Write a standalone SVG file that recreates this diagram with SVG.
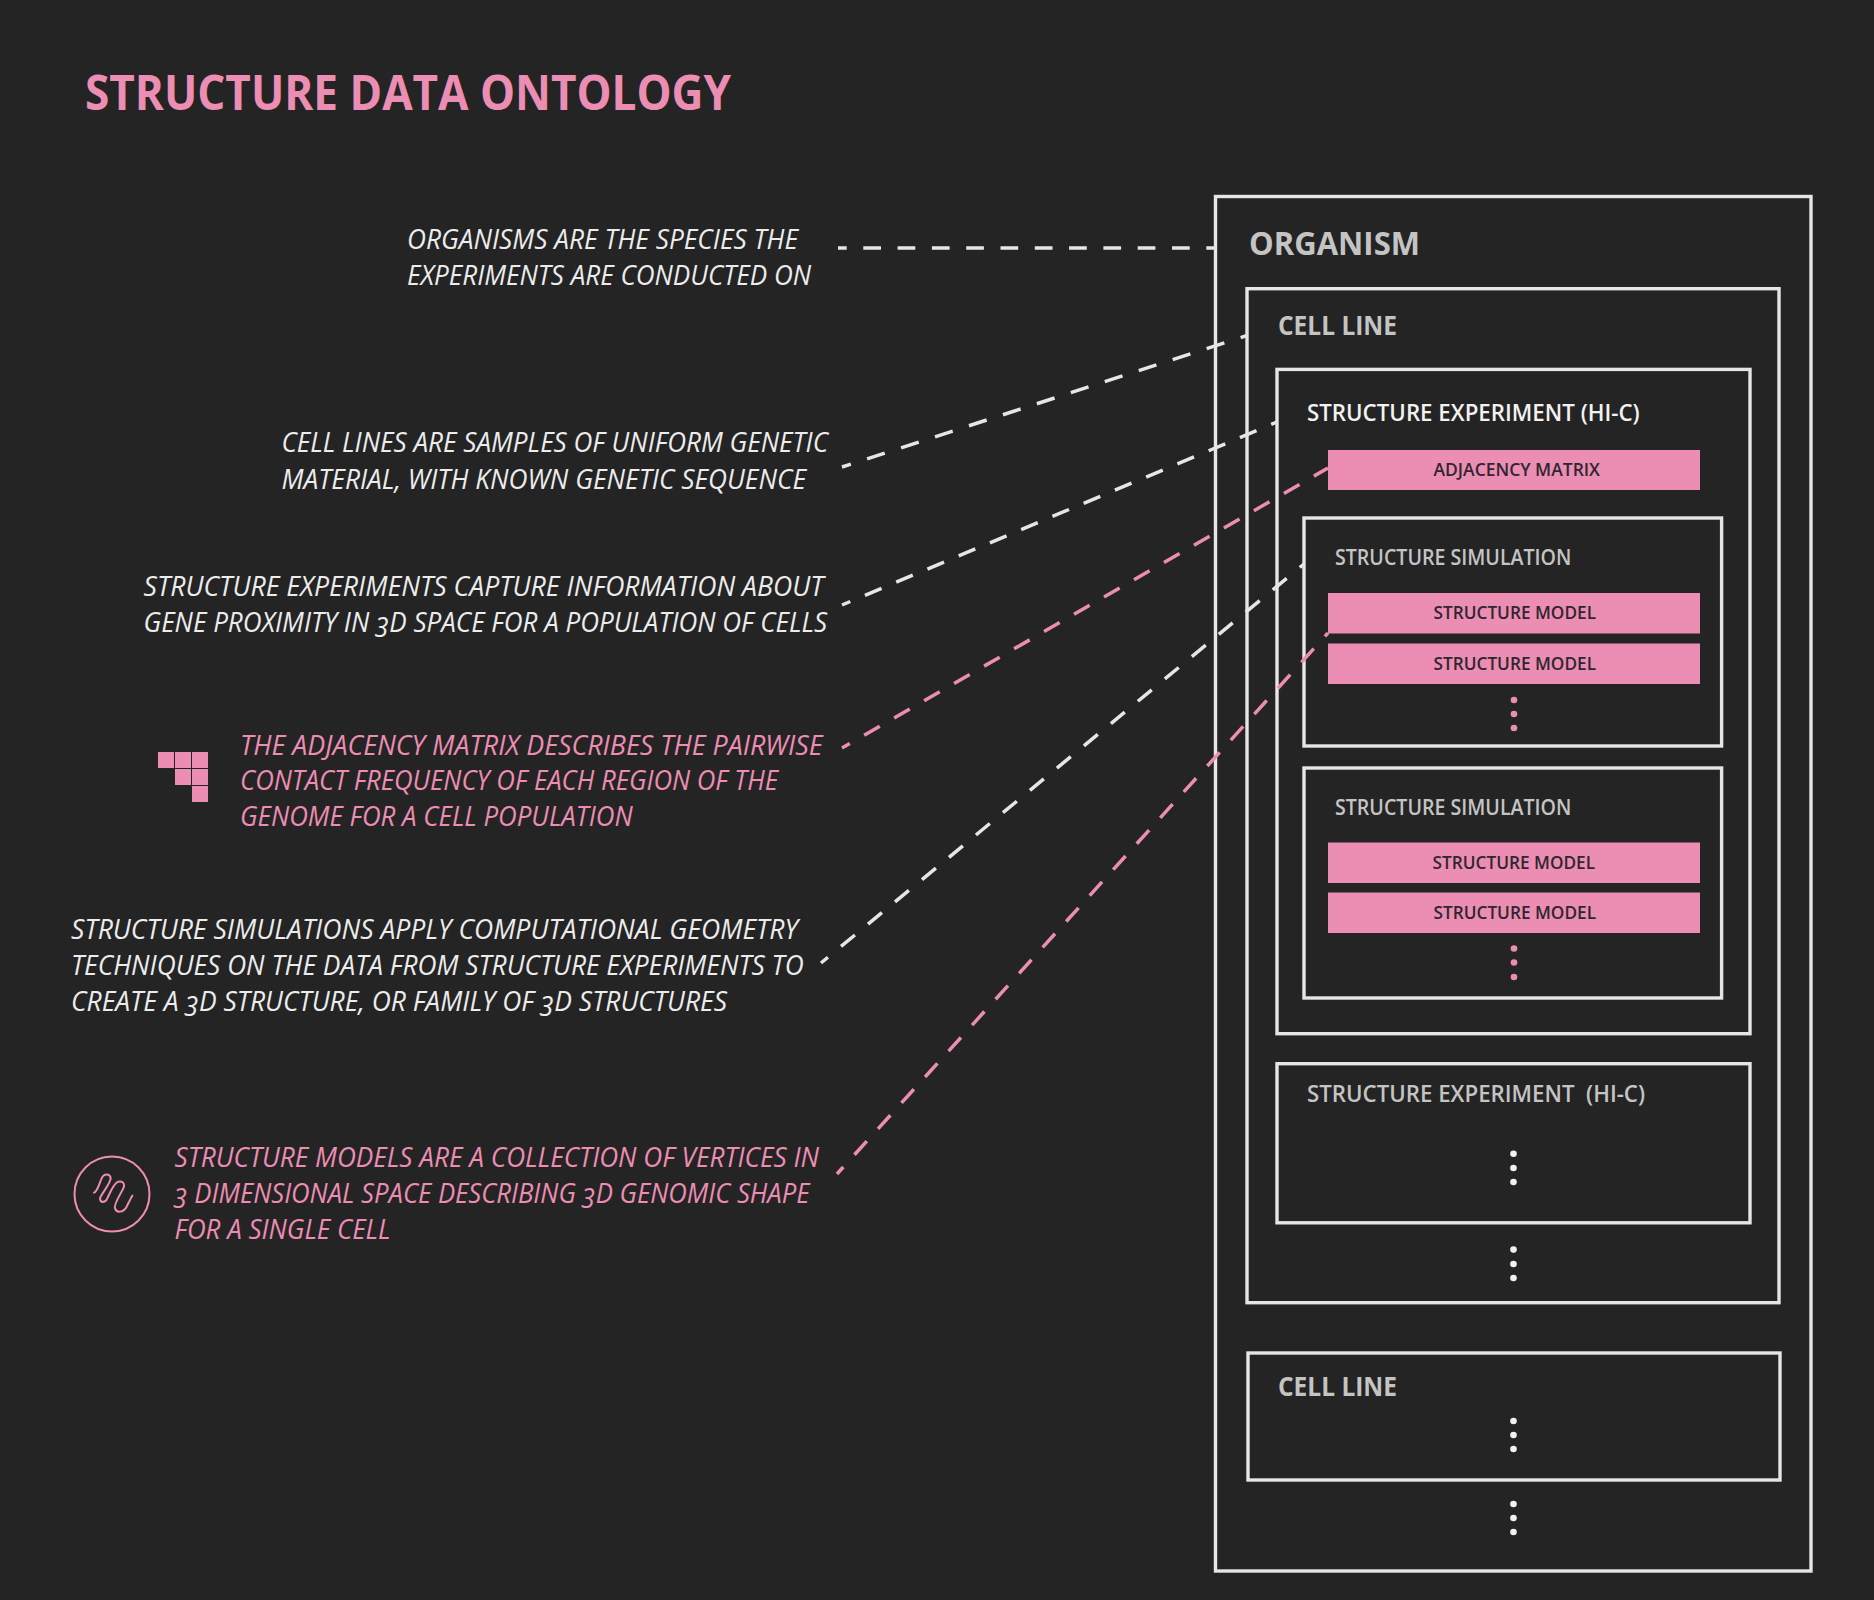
<svg xmlns="http://www.w3.org/2000/svg" width="1874" height="1600" viewBox="0 0 1874 1600">
<style>
text{font-family:"Open Sans","Noto Sans","Liberation Sans",sans-serif;white-space:pre}
.title{font-size:48px;font-weight:700;fill:#ec8db3}
.d{font-size:27.5px;font-weight:400;font-style:italic;fill:#ececec;font-variant-numeric:oldstyle-nums}
.dp{font-size:27.5px;font-weight:400;font-style:italic;fill:#ec8db3;font-variant-numeric:oldstyle-nums}
.box{fill:none;stroke:#e6e6e6;stroke-width:3.4}
.pink{fill:#ec8db3}
.org{font-size:32px;font-weight:700;fill:#c4c4c4}
.cl{font-size:26.5px;font-weight:700;fill:#c4c4c4}
.ex{font-size:23px;font-weight:600;fill:#f2f2f2}
.ex2{font-size:23px;font-weight:600;fill:#c4c4c4}
.sim{font-size:21px;font-weight:600;fill:#c4c4c4}
.m{font-size:18px;font-weight:600;fill:#2f2630}
.dot{fill:#f2f2f2}
.w{fill:none;stroke:#e6e6e6;stroke-width:3.5}
.p{fill:none;stroke:#ec8db3;stroke-width:3.5}
</style>
<rect width="1874" height="1600" fill="#242424"/>
<g id="title"><text class="title" x="85" y="110" textLength="646" lengthAdjust="spacingAndGlyphs">STRUCTURE DATA ONTOLOGY</text></g>
<g id="desc-organism"><text class="d" x="407" y="249" textLength="391" lengthAdjust="spacingAndGlyphs">ORGANISMS ARE THE SPECIES THE</text><text class="d" x="407" y="285" textLength="404" lengthAdjust="spacingAndGlyphs">EXPERIMENTS ARE CONDUCTED ON</text></g>
<g id="desc-cell-line"><text class="d" x="281.5" y="452" textLength="546.5" lengthAdjust="spacingAndGlyphs">CELL LINES ARE SAMPLES OF UNIFORM GENETIC</text><text class="d" x="281.5" y="489" textLength="524.5" lengthAdjust="spacingAndGlyphs">MATERIAL, WITH KNOWN GENETIC SEQUENCE</text></g>
<g id="desc-experiment"><text class="d" x="143.5" y="596" textLength="680" lengthAdjust="spacingAndGlyphs">STRUCTURE EXPERIMENTS CAPTURE INFORMATION ABOUT</text><text class="d" x="143.5" y="632" textLength="683.5" lengthAdjust="spacingAndGlyphs">GENE PROXIMITY IN 3D SPACE FOR A POPULATION OF CELLS</text></g>
<g id="desc-matrix"><text class="dp" x="240" y="755" textLength="582.6" lengthAdjust="spacingAndGlyphs">THE ADJACENCY MATRIX DESCRIBES THE PAIRWISE</text><text class="dp" x="240" y="790" textLength="538" lengthAdjust="spacingAndGlyphs">CONTACT FREQUENCY OF EACH REGION OF THE</text><text class="dp" x="240" y="826" textLength="392.6" lengthAdjust="spacingAndGlyphs">GENOME FOR A CELL POPULATION</text>
<g class="pink"><rect x="158" y="752" width="16" height="16"/><rect x="175" y="752" width="16" height="16"/><rect x="192" y="752" width="16" height="16"/><rect x="175" y="769" width="16" height="16"/><rect x="192" y="769" width="16" height="16"/><rect x="192" y="786" width="16" height="16"/></g></g>
<g id="desc-simulation"><text class="d" x="71" y="939" textLength="727" lengthAdjust="spacingAndGlyphs">STRUCTURE SIMULATIONS APPLY COMPUTATIONAL GEOMETRY</text><text class="d" x="71" y="975" textLength="732.7" lengthAdjust="spacingAndGlyphs">TECHNIQUES ON THE DATA FROM STRUCTURE EXPERIMENTS TO</text><text class="d" x="71" y="1011" textLength="656" lengthAdjust="spacingAndGlyphs">CREATE A 3D STRUCTURE, OR FAMILY OF 3D STRUCTURES</text></g>
<g id="desc-model"><text class="dp" x="174.5" y="1167" textLength="644.5" lengthAdjust="spacingAndGlyphs">STRUCTURE MODELS ARE A COLLECTION OF VERTICES IN</text><text class="dp" x="174.5" y="1203" textLength="635" lengthAdjust="spacingAndGlyphs">3 DIMENSIONAL SPACE DESCRIBING 3D GENOMIC SHAPE</text><text class="dp" x="174.5" y="1239" textLength="216" lengthAdjust="spacingAndGlyphs">FOR A SINGLE CELL</text>
<circle cx="112" cy="1194" r="37.5" fill="none" stroke="#ec8db3" stroke-width="2"/>
<path transform="translate(60 1140) scale(.3333)" fill="none" stroke="#ec8db3" stroke-width="6" stroke-linecap="round" d="M102 158C112 155 118 130 125 115C132 100 150 100 152 115C152 130 122 165 120 175C120 190 135 190 142 175C150 160 160 130 175 125C192 122 195 135 190 145C180 165 160 195 165 205C170 220 190 218 200 200C205 190 212 175 217 167"/></g>
<g id="organism"><rect class="box" x="1215.5" y="196.5" width="595.5" height="1374.5"/><text class="org" x="1249" y="254.6" textLength="171" lengthAdjust="spacingAndGlyphs">ORGANISM</text>
<g class="dot"><circle cx="1513.5" cy="1504" r="3.3"/><circle cx="1513.5" cy="1518" r="3.3"/><circle cx="1513.5" cy="1532" r="3.3"/></g></g>
<g id="cell-line-1"><rect class="box" x="1247" y="288.7" width="532" height="1014"/><text class="cl" x="1278" y="335" textLength="119" lengthAdjust="spacingAndGlyphs">CELL LINE</text>
<g class="dot"><circle cx="1513.5" cy="1249.6" r="3.3"/><circle cx="1513.5" cy="1264" r="3.3"/><circle cx="1513.5" cy="1278" r="3.3"/></g></g>
<g id="experiment-1"><rect class="box" x="1277" y="369.4" width="473" height="664.3"/><text class="ex" x="1307" y="421" textLength="332.6" lengthAdjust="spacingAndGlyphs">STRUCTURE EXPERIMENT (HI-C)</text></g>
<g id="adjacency-matrix"><rect class="pink" x="1328" y="450" width="372" height="40"/><text class="m" x="1433.5" y="476" textLength="166.5" lengthAdjust="spacingAndGlyphs">ADJACENCY MATRIX</text></g>
<g id="simulation-1"><rect class="box" x="1304" y="518" width="417.6" height="228"/><text class="sim" x="1335" y="564.6" textLength="236.4" lengthAdjust="spacingAndGlyphs">STRUCTURE SIMULATION</text>
<g class="pink"><circle cx="1514" cy="700" r="3.3"/><circle cx="1514" cy="714" r="3.3"/><circle cx="1514" cy="728" r="3.3"/></g></g>
<g id="model-1"><rect class="pink" x="1328" y="593" width="372" height="40.5"/><text class="m" x="1433.5" y="619.3" textLength="162.5" lengthAdjust="spacingAndGlyphs">STRUCTURE MODEL</text></g>
<g id="model-2"><rect class="pink" x="1328" y="643.5" width="372" height="40.5"/><text class="m" x="1433.5" y="670" textLength="162.5" lengthAdjust="spacingAndGlyphs">STRUCTURE MODEL</text></g>
<g id="simulation-2"><rect class="box" x="1304" y="768" width="417.6" height="230"/><text class="sim" x="1335" y="815" textLength="236.4" lengthAdjust="spacingAndGlyphs">STRUCTURE SIMULATION</text>
<g class="pink"><circle cx="1514" cy="948.5" r="3.3"/><circle cx="1514" cy="962.5" r="3.3"/><circle cx="1514" cy="977" r="3.3"/></g></g>
<g id="model-3"><rect class="pink" x="1328" y="842.5" width="372" height="40.5"/><text class="m" x="1432.6" y="868.5" textLength="162.5" lengthAdjust="spacingAndGlyphs">STRUCTURE MODEL</text></g>
<g id="model-4"><rect class="pink" x="1328" y="892.5" width="372" height="40.5"/><text class="m" x="1433.5" y="918.7" textLength="162.5" lengthAdjust="spacingAndGlyphs">STRUCTURE MODEL</text></g>
<g id="experiment-2"><rect class="box" x="1277" y="1063.7" width="473" height="159.1"/><text class="ex2" x="1307" y="1102" textLength="338" lengthAdjust="spacingAndGlyphs">STRUCTURE EXPERIMENT  (HI-C)</text>
<g class="dot"><circle cx="1513.5" cy="1153.7" r="3.3"/><circle cx="1513.5" cy="1168" r="3.3"/><circle cx="1513.5" cy="1182" r="3.3"/></g></g>
<g id="cell-line-2"><rect class="box" x="1248" y="1353" width="532" height="127"/><text class="cl" x="1278" y="1395.8" textLength="119" lengthAdjust="spacingAndGlyphs">CELL LINE</text>
<g class="dot"><circle cx="1513.5" cy="1421" r="3.3"/><circle cx="1513.5" cy="1435" r="3.3"/><circle cx="1513.5" cy="1449" r="3.3"/></g></g>
<g id="connectors">
<path class="w" style="stroke-dasharray:17.7 16.6;stroke-dashoffset:9" d="M838 248H1215"/>
<path class="w" style="stroke-dasharray:18.6 17.1;stroke-dashoffset:9.3" d="M842 467L1247 335.5"/>
<path class="w" style="stroke-dasharray:18 15.9;stroke-dashoffset:9" d="M842 605L1277 422"/>
<path class="p" style="stroke-dasharray:18 16.6;stroke-dashoffset:9" d="M842 748L1328 468"/>
<path class="w" style="stroke-dasharray:18 17;stroke-dashoffset:9" d="M821 963L1304 564"/>
<path class="p" style="stroke-dasharray:18.4 16.6;stroke-dashoffset:9" d="M837 1174L1328 633"/>
</g>
</svg>
